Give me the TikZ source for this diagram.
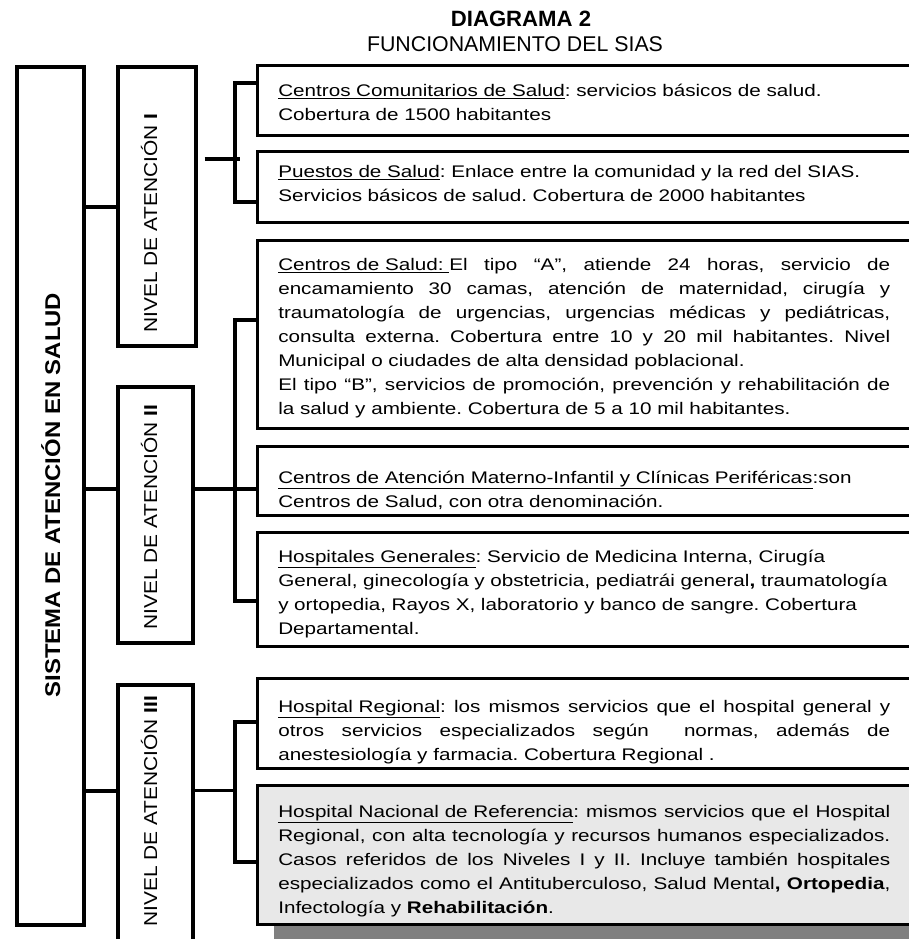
\documentclass[tikz,border=0pt]{standalone}
\usepackage{fontspec}
\setmainfont{Liberation Sans}
\newfontfamily\boxfont[FakeStretch=1.23]{Liberation Sans}
\newfontfamily\lblfont[FakeStretch=1.12]{Liberation Sans}
\usetikzlibrary{positioning,fit}
\newcommand{\ulin}[1]{\underline{#1}}
\frenchspacing

\begin{document}
\begin{tikzpicture}[x=0.75pt, y=-0.75pt,
	   cbox/.style={draw, line width=2.25pt, fill=white, inner sep=0pt},
	   lvl/.style={draw, line width=3pt, inner sep=0pt},
	   conn/.style={line width=3pt},
	   txt/.style={inner sep=0pt, anchor=base west, text width=459pt, align=justify,
	     font=\boxfont\fontsize{12.6}{18}\selectfont\frenchspacing},
	   rtxt/.style={txt, text width=480pt, align=left},
	   lbl/.style={inner sep=0pt, rotate=90, anchor=base west, font=\lblfont\fontsize{14}{16}\selectfont}]
	  \useasboundingbox (0,0) rectangle (909,939);
	  \clip (0,0) rectangle (909,939);
	  \node[anchor=base, font=\fontsize{16.6}{19}\selectfont\bfseries] (tt1) at (521,26) {DIAGRAMA 2};
	  \node[anchor=base, font=\fontsize{16}{19}\selectfont] (tt2) at (515,51) {FUNCIONAMIENTO DEL SIAS};
	  \node[draw, line width=3.4pt, inner sep=0pt, fit={(17,67) (84,925)}] (outer) {};
	  \node[rotate=90, anchor=base, inner sep=0pt, font=\lblfont\fontsize{16}{18}\selectfont\bfseries] (sis) at (60,495) {SISTEMA DE ATENCIÓN EN SALUD};
	  \node[lvl, fit={(118,67) (196,346)}] (lvl1) {};
	  \node[lvl, fit={(118,387) (193,643)}] (lvl2) {};
	  \node[lvl, fit={(118,685) (193,960)}] (lvl3) {};
	  \node[lbl] (n1) at (157,333) {NIVEL DE ATENCIÓN \textbf{I}};
	  \node[lbl] (n2) at (157,630) {NIVEL DE ATENCIÓN \textbf{II}};
	  \node[lbl] (n3) at (157,927) {NIVEL DE ATENCIÓN \textbf{III}};
	  % content boxes
	  \node[cbox, fit={(257,65) (930,135)}] (b1) {};
	  \node[cbox, fit={(257,151) (930,222)}] (b2) {};
	  \node[cbox, fit={(257,240) (930,428)}] (b3) {};
	  \node[cbox, fit={(257,446) (930,515)}] (b4) {};
	  \node[cbox, fit={(257,532) (930,646)}] (b5) {};
	  \node[cbox, fit={(257,678) (930,768)}] (b6) {};
	  \fill[gray] (274,800) rectangle (930,960);
	  \node[cbox, fill=black!9, fit={(257,785) (930,924)}] (b7) {};
	  \node[rtxt] (t1) at (278,96) {\ulin{Centros Comunitarios de Salud}: servicios básicos de salud.\\
	    Cobertura de 1500 habitantes};
	  \node[rtxt] (t2) at (278,177) {\ulin{Puestos de Salud}: Enlace entre la comunidad y la red del SIAS.\\
	    Servicios básicos de salud. Cobertura de 2000 habitantes};
	  \node[txt] (t3) at (278,270) {\ulin{Centros de Salud: }El tipo “A”, atiende 24 horas, servicio de\linebreak
	    encamamiento 30 camas, atención de maternidad, cirugía y\linebreak
	    traumatología de urgencias, urgencias médicas y pediátricas,\linebreak
	    consulta externa. Cobertura entre 10 y 20 mil habitantes. Nivel\linebreak
	    Municipal o ciudades de alta densidad poblacional.\par
	    El tipo “B”, servicios de promoción, prevención y rehabilitación de\linebreak
	    la salud y ambiente. Cobertura de 5 a 10 mil habitantes.};
	  \node[rtxt] (t4) at (278,483) {\ulin{Centros de Atención Materno-Infantil y Clínicas Periféricas}:son\\
	    Centros de Salud, con otra denominación.};
	  \node[rtxt] (t5) at (278,562) {\ulin{Hospitales Generales}: Servicio de Medicina Interna, Cirugía\\
	    General, ginecología y obstetricia, pediatrái general\textbf{,} traumatología\\
	    y ortopedia, Rayos X, laboratorio y banco de sangre. Cobertura\\
	    Departamental.};
	  \node[txt] (t6) at (278,712) {\ulin{Hospital Regional}: los mismos servicios que el hospital general y\linebreak
	    otros servicios especializados según\ \ normas, además de\linebreak
	    anestesiología y farmacia. Cobertura Regional .};
	  \node[txt] (t7) at (278,817) {\ulin{Hospital Nacional de Referencia}: mismos servicios que el Hospital\linebreak
	    Regional, con alta tecnología y recursos humanos especializados.\linebreak
	    Casos referidos de los Niveles I y II. Incluye también hospitales\linebreak
	    especializados como el Antituberculoso, Salud Mental\textbf{, Ortopedia},\linebreak
	    Infectología y \textbf{Rehabilitación}.};
	  % connectors
	  \coordinate (s1) at (100,207); \coordinate (s2) at (100,489); \coordinate (s3) at (100,791);
	  \foreach \i in {1,2,3}
	    \draw[conn, line width=3.4pt] (outer.east |- s\i) -- (lvl\i.west |- s\i);
	  \coordinate (u1) at (235,83); \coordinate (d1) at (235,202); \coordinate (j1) at (235,159);
	  \coordinate (u2) at (235,320); \coordinate (d2) at (235,601); \coordinate (j2) at (235,489);
	  \coordinate (u3) at (235,722); \coordinate (d3) at (235,862); \coordinate (j3) at (235,790);
	  \draw[conn] (b1.west |- u1) -- (u1) -- (d1) -- (b2.west |- d1);
	  \draw[conn] ([xshift=5pt]lvl1.east |- j1) -- ([xshift=4pt]j1);
	  \draw[conn] (b3.west |- u2) -- (u2) -- (d2) -- (b5.west |- d2);
	  \draw[conn] (lvl2.east |- j2) -- (b4.west |- j2);
	  \draw[conn] (b6.west |- u3) -- (u3) -- (d3) -- (b7.west |- d3);
	  \draw[conn, line width=2.25pt] (lvl3.east |- j3) -- (j3);
	\end{tikzpicture}
\end{document}
